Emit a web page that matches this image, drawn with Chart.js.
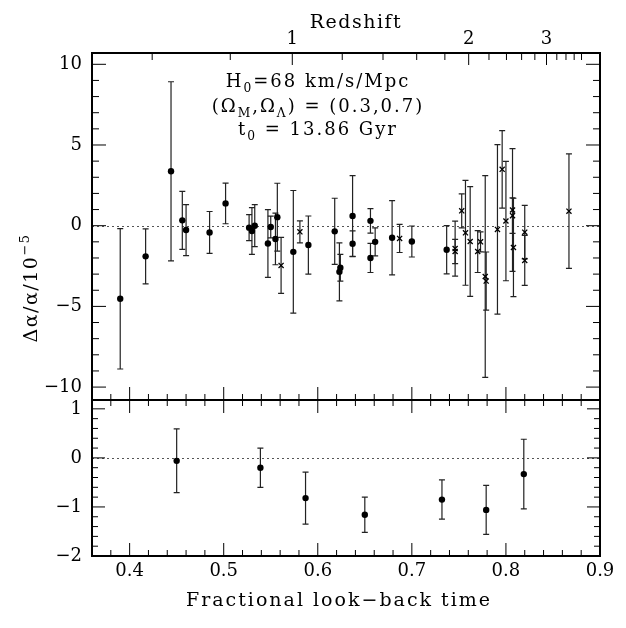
<!DOCTYPE html>
<html>
<head>
<meta charset="utf-8">
<script src="https://cdn.jsdelivr.net/npm/chart.js@4.4.0/dist/chart.umd.min.js"></script>
<style>
  html, body { margin: 0; padding: 0; background: #fff; }
  #wrap { width: 626px; height: 628px; }
</style>
</head>
<body>
<div id="wrap"><canvas id="alphaChart" width="626" height="628"></canvas></div>
<script>
// individual absorbers, filled circles: look-back time, da/a (1e-5), 1 sigma
var circleTime = [0.390, 0.417, 0.444, 0.456, 0.460, 0.485, 0.502, 0.527, 0.530, 0.533, 0.547, 0.550, 0.555, 0.557,
                  0.574, 0.590, 0.618, 0.623, 0.624, 0.637, 0.637, 0.656, 0.656, 0.661, 0.679, 0.700, 0.737];
var circleDa = [-4.53, -1.90, 3.37, 0.33, -0.27, -0.42, 1.38, -0.12, -0.33, 0.00, -1.10, -0.08, -0.82, 0.53,
                -1.62, -1.20, -0.35, -2.86, -2.61, 0.60, -1.12, 0.30, -2.00, -1.00, -0.75, -0.98, -1.49];
var circleErr = [4.35, 1.70, 5.55, 1.80, 1.58, 1.30, 1.26, 0.80, 1.45, 1.30, 2.10, 0.67, 1.60, 2.10,
                 3.80, 1.80, 2.05, 1.80, 0.83, 2.50, 0.80, 0.76, 0.90, 0.87, 2.30, 0.96, 1.50];

// individual absorbers, crosses
var crossTime = [0.561, 0.581, 0.687, 0.746, 0.746, 0.753, 0.757, 0.762, 0.770, 0.773, 0.778,
                 0.779, 0.791, 0.796, 0.800, 0.807, 0.807, 0.808, 0.820, 0.820, 0.867];
var crossDa = [-2.46, -0.38, -0.79, -1.42, -1.60, 0.92, -0.44, -0.98, -1.60, -1.00, -3.15,
               -3.43, -0.23, 3.49, 0.29, 0.97, 0.62, -1.35, -0.40, -2.15, 0.90];
var crossErr = [1.73, 0.68, 0.87, 1.70, 0.75, 1.05, 3.25, 3.40, 1.30, 0.62, 6.25,
                1.80, 5.25, 2.40, 3.70, 3.80, 1.10, 3.05, 1.66, 1.55, 3.55];

// binned values (lower panel)
var binTime = [0.450, 0.539, 0.587, 0.650, 0.732, 0.779, 0.819];
var binDa = [-0.06, -0.20, -0.82, -1.16, -0.85, -1.06, -0.33];
var binErr = [0.65, 0.40, 0.53, 0.36, 0.40, 0.50, 0.71];

var xTicks = [0.4, 0.5, 0.6, 0.7, 0.8, 0.9];
var topTicks = [-10, -5, 0, 5, 10];
var bottomTicks = [-2, -1, 0, 1];
var redshiftTicks = [0.6, 0.8, 1, 1.2, 1.4, 1.6, 1.8, 2, 2.2, 2.4, 2.6, 2.8, 3, 3.2, 3.4, 3.6, 3.8];
var redshiftLabels = [1, 2, 3];

var serif = "'DejaVu Serif', 'Liberation Serif', serif";

// flat LCDM, Om=0.3, OL=0.7
function lookBack(z) {
    var k = Math.sqrt(0.7 / 0.3);
    return 1 - Math.asinh(k * Math.pow(1 + z, -1.5)) / Math.asinh(k);
}

function points(xs, ys) {
    return xs.map(function(x, i) { return { x: x, y: ys[i] }; });
}

function minusLabel(v) {
    return v < 0 ? '\u2212' + Math.abs(v) : String(v);
}

function fixTicks(list) {
    return function(scale) {
        scale.ticks = list.map(function(v) { return { value: v }; });
    };
}

// draw text pieces with subscripts/superscripts, centred on cx
function drawRich(ctx, parts, cx, baseline, size, spacing) {
    var widths = parts.map(function(p) {
        var s = p.s ? size * 0.68 : size;
        ctx.font = s + 'px ' + serif;
        ctx.letterSpacing = spacing + 'px';
        return ctx.measureText(p.t).width;
    });
    var total = widths.reduce(function(a, b) { return a + b; }, 0);
    var x = cx - total / 2;
    parts.forEach(function(p, i) {
        var s = p.s ? size * 0.68 : size;
        ctx.font = s + 'px ' + serif;
        ctx.letterSpacing = spacing + 'px';
        ctx.fillText(p.t, x, baseline + (p.s || 0));
        x += widths[i];
    });
    ctx.letterSpacing = '0px';
}

var panelPlugin = {
    id: 'panelPlugin',
    beforeDatasetsDraw: function(chart) {
        var ctx = chart.ctx;
        var xs = chart.scales.x;
        ctx.save();
        // dotted zero lines
        ctx.strokeStyle = '#555';
        ctx.lineWidth = 1;
        ctx.setLineDash([2, 3]);
        ['yTop', 'yBot'].forEach(function(id) {
            var py = Math.round(chart.scales[id].getPixelForValue(0)) + 0.5;
            ctx.beginPath();
            ctx.moveTo(xs.left, py);
            ctx.lineTo(xs.right, py);
            ctx.stroke();
        });
        ctx.setLineDash([]);
        // error bars
        ctx.strokeStyle = '#222';
        ctx.lineWidth = 1.2;
        chart.data.datasets.forEach(function(ds, i) {
            var meta = chart.getDatasetMeta(i);
            var ys = chart.scales[ds.yAxisID];
            meta.data.forEach(function(el, j) {
                var v = ds.data[j].y, e = ds.errors[j];
                var y1 = ys.getPixelForValue(v + e), y2 = ys.getPixelForValue(v - e);
                ctx.beginPath();
                ctx.moveTo(el.x, y1); ctx.lineTo(el.x, y2);
                ctx.moveTo(el.x - 3, y1); ctx.lineTo(el.x + 3, y1);
                ctx.moveTo(el.x - 3, y2); ctx.lineTo(el.x + 3, y2);
                ctx.stroke();
            });
        });
        ctx.restore();
    },
    afterDraw: function(chart) {
        var ctx = chart.ctx;
        var a = chart.chartArea;
        var xs = chart.scales.x, yt = chart.scales.yTop, yb = chart.scales.yBot;
        var mid = yt.bottom;
        ctx.save();
        ctx.strokeStyle = '#000';
        ctx.lineWidth = 1;
        ctx.beginPath();
        // x ticks, minor every 0.02
        for (var n = 36; n <= 90; n += 2) {
            var px = xs.getPixelForValue(n / 100);
            var len = n % 10 === 0 ? 13 : 6;
            ctx.moveTo(px, a.bottom); ctx.lineTo(px, a.bottom - len);
            ctx.moveTo(px, mid); ctx.lineTo(px, mid + len);
            ctx.moveTo(px, mid); ctx.lineTo(px, mid - len);
        }
        // redshift ticks along the top
        redshiftTicks.forEach(function(z) {
            var px = xs.getPixelForValue(lookBack(z));
            var len = redshiftLabels.indexOf(z) >= 0 ? 12 : 7;
            ctx.moveTo(px, a.top); ctx.lineTo(px, a.top + len);
        });
        // upper panel y ticks
        for (var v = -10; v <= 10; v++) {
            var py = yt.getPixelForValue(v);
            var l = v % 5 === 0 ? 14 : 7;
            ctx.moveTo(a.left, py); ctx.lineTo(a.left + l, py);
            ctx.moveTo(a.right, py); ctx.lineTo(a.right - l, py);
        }
        // lower panel y ticks
        for (var m = -10; m <= 5; m++) {
            var pyb = yb.getPixelForValue(m / 5);
            var lb = m % 5 === 0 ? 13 : 6;
            ctx.moveTo(a.left, pyb); ctx.lineTo(a.left + lb, pyb);
            ctx.moveTo(a.right, pyb); ctx.lineTo(a.right - lb, pyb);
        }
        ctx.stroke();
        // frame
        ctx.lineWidth = 2;
        ctx.strokeRect(a.left, a.top, a.right - a.left, a.bottom - a.top);
        ctx.beginPath();
        ctx.moveTo(a.left, mid); ctx.lineTo(a.right, mid);
        ctx.stroke();

        // titles
        ctx.fillStyle = '#000';
        ctx.textAlign = 'left';
        ctx.textBaseline = 'alphabetic';
        drawRich(ctx, [{ t: 'Fractional look\u2212back time' }], 339, 606, 19, 2);
        drawRich(ctx, [{ t: 'Redshift' }], 356, 28, 19, 1.5);

        // cosmology note
        drawRich(ctx, [{ t: 'H' }, { t: '0', s: 5 }, { t: '=68 km/s/Mpc' }], 318, 87, 18, 2);
        drawRich(ctx, [{ t: '(\u03a9' }, { t: 'M', s: 5 }, { t: ',\u03a9' }, { t: '\u039b', s: 5 }, { t: ') = (0.3,0.7)' }], 318, 112, 18, 2);
        drawRich(ctx, [{ t: 't' }, { t: '0', s: 5 }, { t: ' = 13.86 Gyr' }], 318, 135, 18, 2);

        // y title, rotated
        ctx.translate(31, 288);
        ctx.rotate(-Math.PI / 2);
        drawRich(ctx, [{ t: '\u0394\u03b1/\u03b1/10' }, { t: '\u22125', s: -8 }], 0, 6, 19, 1.5);
        ctx.restore();
    }
};

var tickFont = { family: serif, size: 18 };

var chart = new Chart(document.getElementById('alphaChart').getContext('2d'), {
    type: 'scatter',
    data: {
        datasets: [
            {
                data: points(circleTime, circleDa), errors: circleErr, yAxisID: 'yTop', xAxisID: 'x',
                pointStyle: 'circle', pointRadius: 3.2, backgroundColor: '#000', borderColor: '#000', borderWidth: 0
            },
            {
                data: points(crossTime, crossDa), errors: crossErr, yAxisID: 'yTop', xAxisID: 'x',
                pointStyle: 'crossRot', pointRadius: 3.6, borderColor: '#000', borderWidth: 1.3
            },
            {
                data: points(binTime, binDa), errors: binErr, yAxisID: 'yBot', xAxisID: 'x',
                pointStyle: 'circle', pointRadius: 3.2, backgroundColor: '#000', borderColor: '#000', borderWidth: 0
            }
        ]
    },
    options: {
        responsive: false,
        animation: false,
        layout: { padding: { left: 0, right: 26, top: 0, bottom: 0 } },
        plugins: { legend: { display: false }, tooltip: { enabled: false } },
        scales: {
            x: {
                type: 'linear', position: 'bottom', min: 0.36, max: 0.9,
                afterBuildTicks: fixTicks(xTicks),
                afterFit: function(s) { s.height = 72; },
                grid: { display: false, drawTicks: false }, border: { display: false },
                ticks: { font: tickFont, color: '#000', padding: 5, autoSkip: false, maxRotation: 0,
                         callback: function(v) { return v.toFixed(1); } }
            },
            x2: {
                type: 'linear', position: 'top', min: 0.36, max: 0.9,
                afterBuildTicks: function(scale) {
                    scale.ticks = redshiftTicks.map(function(z) { return { value: lookBack(z) }; });
                },
                afterFit: function(s) { s.height = 53; },
                grid: { display: false, drawTicks: false }, border: { display: false },
                ticks: { font: tickFont, color: '#000', padding: 3, autoSkip: false, maxRotation: 0,
                         callback: function(v, i) {
                             var z = redshiftTicks[i];
                             return redshiftLabels.indexOf(z) >= 0 ? String(z) : '';
                         } }
            },
            yBot: {
                type: 'linear', position: 'left', stack: 'panels', stackWeight: 156,
                min: -2, max: 1.18,
                afterBuildTicks: fixTicks(bottomTicks),
                afterFit: function(s) { s.width = 92; },
                grid: { display: false, drawTicks: false }, border: { display: false },
                ticks: { font: tickFont, color: '#000', padding: 10, autoSkip: false, callback: minusLabel }
            },
            yTop: {
                type: 'linear', position: 'left', stack: 'panels', stackWeight: 347,
                min: -10.8, max: 10.7,
                afterBuildTicks: fixTicks(topTicks),
                afterFit: function(s) { s.width = 92; },
                grid: { display: false, drawTicks: false }, border: { display: false },
                ticks: { font: tickFont, color: '#000', padding: 10, autoSkip: false, callback: minusLabel }
            }
        }
    },
    plugins: [panelPlugin]
});
</script>
</body>
</html>
